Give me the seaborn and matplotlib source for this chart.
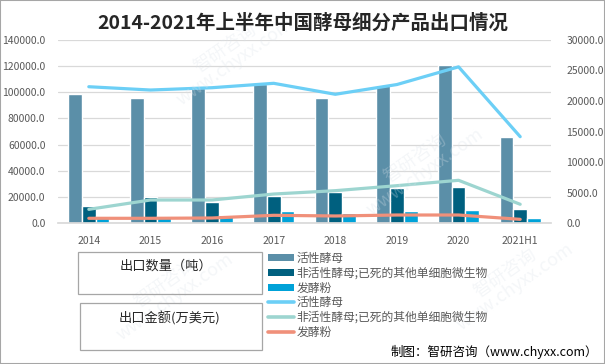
import matplotlib
matplotlib.use("Agg")
import matplotlib.pyplot as plt
import seaborn as sns
import pandas as pd
from matplotlib.patches import Rectangle, Patch
from matplotlib.lines import Line2D
from matplotlib.ticker import FormatStrFormatter

years = ["2014", "2015", "2016", "2017", "2018", "2019", "2020", "2021H1"]
series_names = ["活性酵母", "非活性酵母;已死的其他单细胞微生物", "发酵粉"]

# 出口数量（吨）
qty_active = [98500, 96000, 103000, 106300, 95300, 105700, 121000, 66100]
qty_inactive = [13000, 19900, 16300, 20700, 24000, 26800, 27600, 10700]
qty_powder = [5400, 5400, 6100, 9400, 7700, 9200, 10000, 3800]

# 出口金额（万美元）
val_active = [22340, 21800, 22180, 22900, 21100, 22700, 25600, 14150]
val_inactive = [2240, 3770, 3770, 4750, 5300, 6120, 7000, 3070]
val_powder = [770, 770, 820, 1260, 1150, 1310, 1310, 600]

bar_colors = ["#5B8FA8", "#00607F", "#00A2D8"]
line_colors = ["#6CCFF6", "#9DD5D0", "#F0907A"]

sns.set_theme(style="white")
plt.rcParams["font.family"] = ["Noto Sans CJK SC", "DejaVu Sans"]

qty = pd.DataFrame({
    "year": years * 3,
    "series": [s for s in series_names for _ in years],
    "value": qty_active + qty_inactive + qty_powder,
})
val = pd.DataFrame({
    "year": years * 3,
    "series": [s for s in series_names for _ in years],
    "value": val_active + val_inactive + val_powder,
})

fig = plt.figure(figsize=(6.05, 3.64), dpi=100)
ax = fig.add_axes([58 / 605, 1 - 223 / 364, 493 / 605, 183 / 364])

sns.barplot(data=qty, x="year", y="value", hue="series", palette=bar_colors,
            width=0.67, gap=0, saturation=1, ax=ax, legend=False)

ax2 = ax.twinx()
sns.lineplot(data=val, x="year", y="value", hue="series", palette=line_colors,
             linewidth=2.3, ax=ax2, legend=False, sort=False)

ax.set_xlim(-0.5, 7.5)
ax.set_ylim(0, 140000)
ax2.set_ylim(0, 30000)
ax.set_yticks(range(0, 140001, 20000))
ax2.set_yticks(range(0, 30001, 5000))
ax.yaxis.set_major_formatter(FormatStrFormatter("%.1f"))
ax2.yaxis.set_major_formatter(FormatStrFormatter("%.1f"))
ax.yaxis.grid(True, color="#D9D9D9", linewidth=0.9)
ax.set_axisbelow(True)
for a in (ax, ax2):
    a.set_xlabel("")
    a.set_ylabel("")
    for s in a.spines.values():
        s.set_visible(False)
    a.tick_params(length=0, labelsize=7.5, colors="#595959")
ax.tick_params(axis="x", pad=9)
ax.tick_params(axis="y", pad=9)
ax2.tick_params(axis="y", pad=11)
ax.spines["bottom"].set_visible(True)
ax.spines["bottom"].set_color("#D9D9D9")

fig.text(0.5, 1 - 23 / 364, "2014-2021年上半年中国酵母细分产品出口情况",
         ha="center", va="center", fontsize=14, fontweight="bold", color="#262626")

# label boxes for the two legend groups
fig.patches.append(Rectangle((78 / 605, 1 - 294 / 364), 184 / 605, 42 / 364,
                             transform=fig.transFigure, fill=False,
                             edgecolor="#A6A6A6", linewidth=0.9))
fig.patches.append(Rectangle((80 / 605, 1 - 350 / 364), 182 / 605, 47 / 364,
                             transform=fig.transFigure, fill=False,
                             edgecolor="#A6A6A6", linewidth=0.9))
fig.text(166 / 605, 1 - 266 / 364, "出口数量（吨）", ha="center", va="center",
         fontsize=9.5, color="#262626")
fig.text(170 / 605, 1 - 318 / 364, "出口金额(万美元)", ha="center", va="center",
         fontsize=9.5, color="#262626")

handles = [Patch(facecolor=c, edgecolor="none") for c in bar_colors]
handles += [Line2D([], [], color=c, linewidth=2.6) for c in line_colors]
labels = series_names + series_names
leg = fig.legend(handles, labels, loc="upper left",
                 bbox_to_anchor=(262 / 605, 1 - 246 / 364),
                 frameon=False, fontsize=8.5, handlelength=2.2, handleheight=0.6,
                 handletextpad=0.2, labelspacing=0.15, borderpad=0)
for t in leg.get_texts():
    t.set_color("#595959")

fig.text(598 / 605, 1 - 352 / 364, "制图：智研咨询（www.chyxx.com）",
         ha="right", va="center", fontsize=9, color="#000000")

# faint watermarks
for (wx, wy) in [(230, 55), (420, 165), (510, 280), (170, 290)]:
    fig.text(wx / 605, 1 - wy / 364, "智研咨询\nwww.chyxx.com", rotation=35,
             ha="center", va="center", fontsize=13, color="#DCE3EA",
             alpha=0.3, zorder=0.5, linespacing=0.9)

fig.patches.append(Rectangle((0, 0), 1, 1, transform=fig.transFigure,
                             fill=False, edgecolor="#A6A6A6", linewidth=1.5))

fig.savefig("out.png", dpi=100)
